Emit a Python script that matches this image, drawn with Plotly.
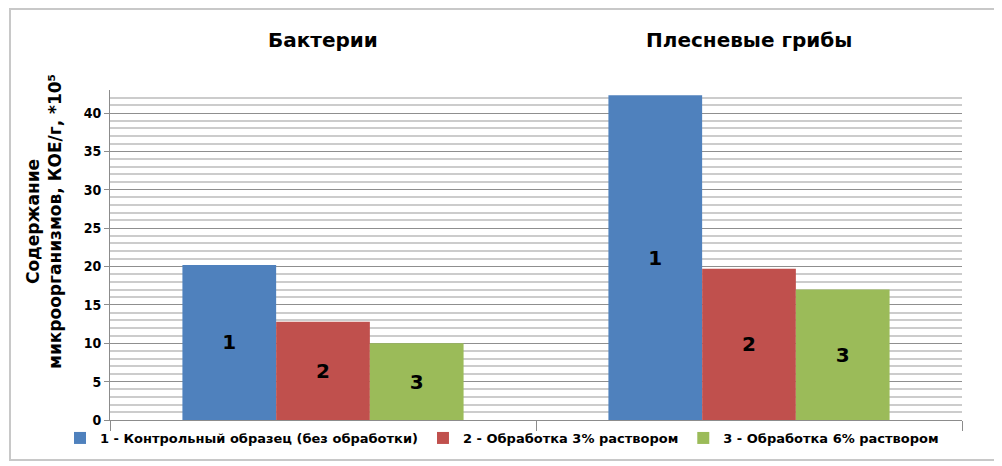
import plotly.graph_objects as go

categories = ["Бактерии", "Плесневые грибы"]
series_names = [
    "1 - Контрольный образец (без обработки)",
    "2 - Обработка 3% раствором",
    "3 - Обработка 6% раствором",
]
series_labels = ["1", "2", "3"]
series_values = [
    [20.2, 42.3],
    [12.8, 19.7],
    [10.0, 17.0],
]
colors = ["#4F81BD", "#C0504D", "#9BBB59"]
y_title = "Содержание<br>микроорганизмов, КОЕ/г, *10⁵"

# page body has an 8px margin, so the figure is slightly smaller and offset
W, H = 994, 458
L, R, T, B = 102, 40, 82, 46
pw = W - L - R
ph = H - T - B

fig = go.Figure()
for name, lab, vals, col in zip(series_names, series_labels, series_values, colors):
    fig.add_trace(go.Bar(
        x=categories, y=vals, name=name,
        marker=dict(color=col, line=dict(width=0)),
        text=[lab] * len(vals), textposition="inside",
        insidetextanchor="middle", textangle=0,
        textfont=dict(family="DejaVu Sans", size=20, color="black", weight="bold"),
    ))

bold = "DejaVu Sans"
annotations = []
for c in categories:
    annotations.append(dict(
        x=c, xref="x", y=1, yref="paper", yshift=50, showarrow=False,
        text="<b>" + c + "</b>", font=dict(family=bold, size=20, color="black"),
        yanchor="middle",
    ))
annotations.append(dict(
    x=(36 - L) / pw, xref="paper", y=(H - B - 214) / ph, yref="paper",
    text="<b>" + y_title + "</b>", textangle=-90, showarrow=False,
    font=dict(family=bold, size=17, color="black"),
    xanchor="center", yanchor="middle", align="center",
))

fig.update_layout(
    width=W, height=H,
    margin=dict(l=L, r=R, t=T, b=B),
    paper_bgcolor="white", plot_bgcolor="white",
    barmode="group", bargap=0.34, bargroupgap=0,
    showlegend=True,
    legend=dict(orientation="h", x=(52 - L) / pw, xanchor="left", y=-18 / ph, yanchor="middle",
                font=dict(family=bold, size=13, color="black", weight="bold"),
                itemwidth=30, tracegroupgap=0, bgcolor="rgba(0,0,0,0)",
                traceorder="normal"),
    annotations=annotations,
    xaxis=dict(type="category", showticklabels=False, ticks="outside", tickson="boundaries",
               ticklen=10, tickcolor="#8c8c8c", showline=True, linecolor="#8c8c8c",
               linewidth=1, showgrid=False, zeroline=False),
    yaxis=dict(range=[0, 43], dtick=5, tick0=0, ticks="outside", ticklen=5,
               tickcolor="#8c8c8c", showline=True, linecolor="#8c8c8c", linewidth=1,
               showgrid=True, gridcolor="#8f8f8f", gridwidth=1, zeroline=False,
               minor=dict(dtick=1, showgrid=True, gridcolor="#cccccc", gridwidth=1.5, ticks=""),
               tickfont=dict(family="DejaVu Sans Condensed, DejaVu Sans", size=14,
                             color="black", weight="bold")),
    shapes=[dict(type="rect", xref="paper", yref="paper",
                 x0=(2 - L) / pw, x1=(988 - L) / pw,
                 y0=(H - B - 452) / ph, y1=(H - B - 1) / ph,
                 line=dict(color="#c8c8c8", width=2), layer="below")],
)

fig.write_html("out.html")
